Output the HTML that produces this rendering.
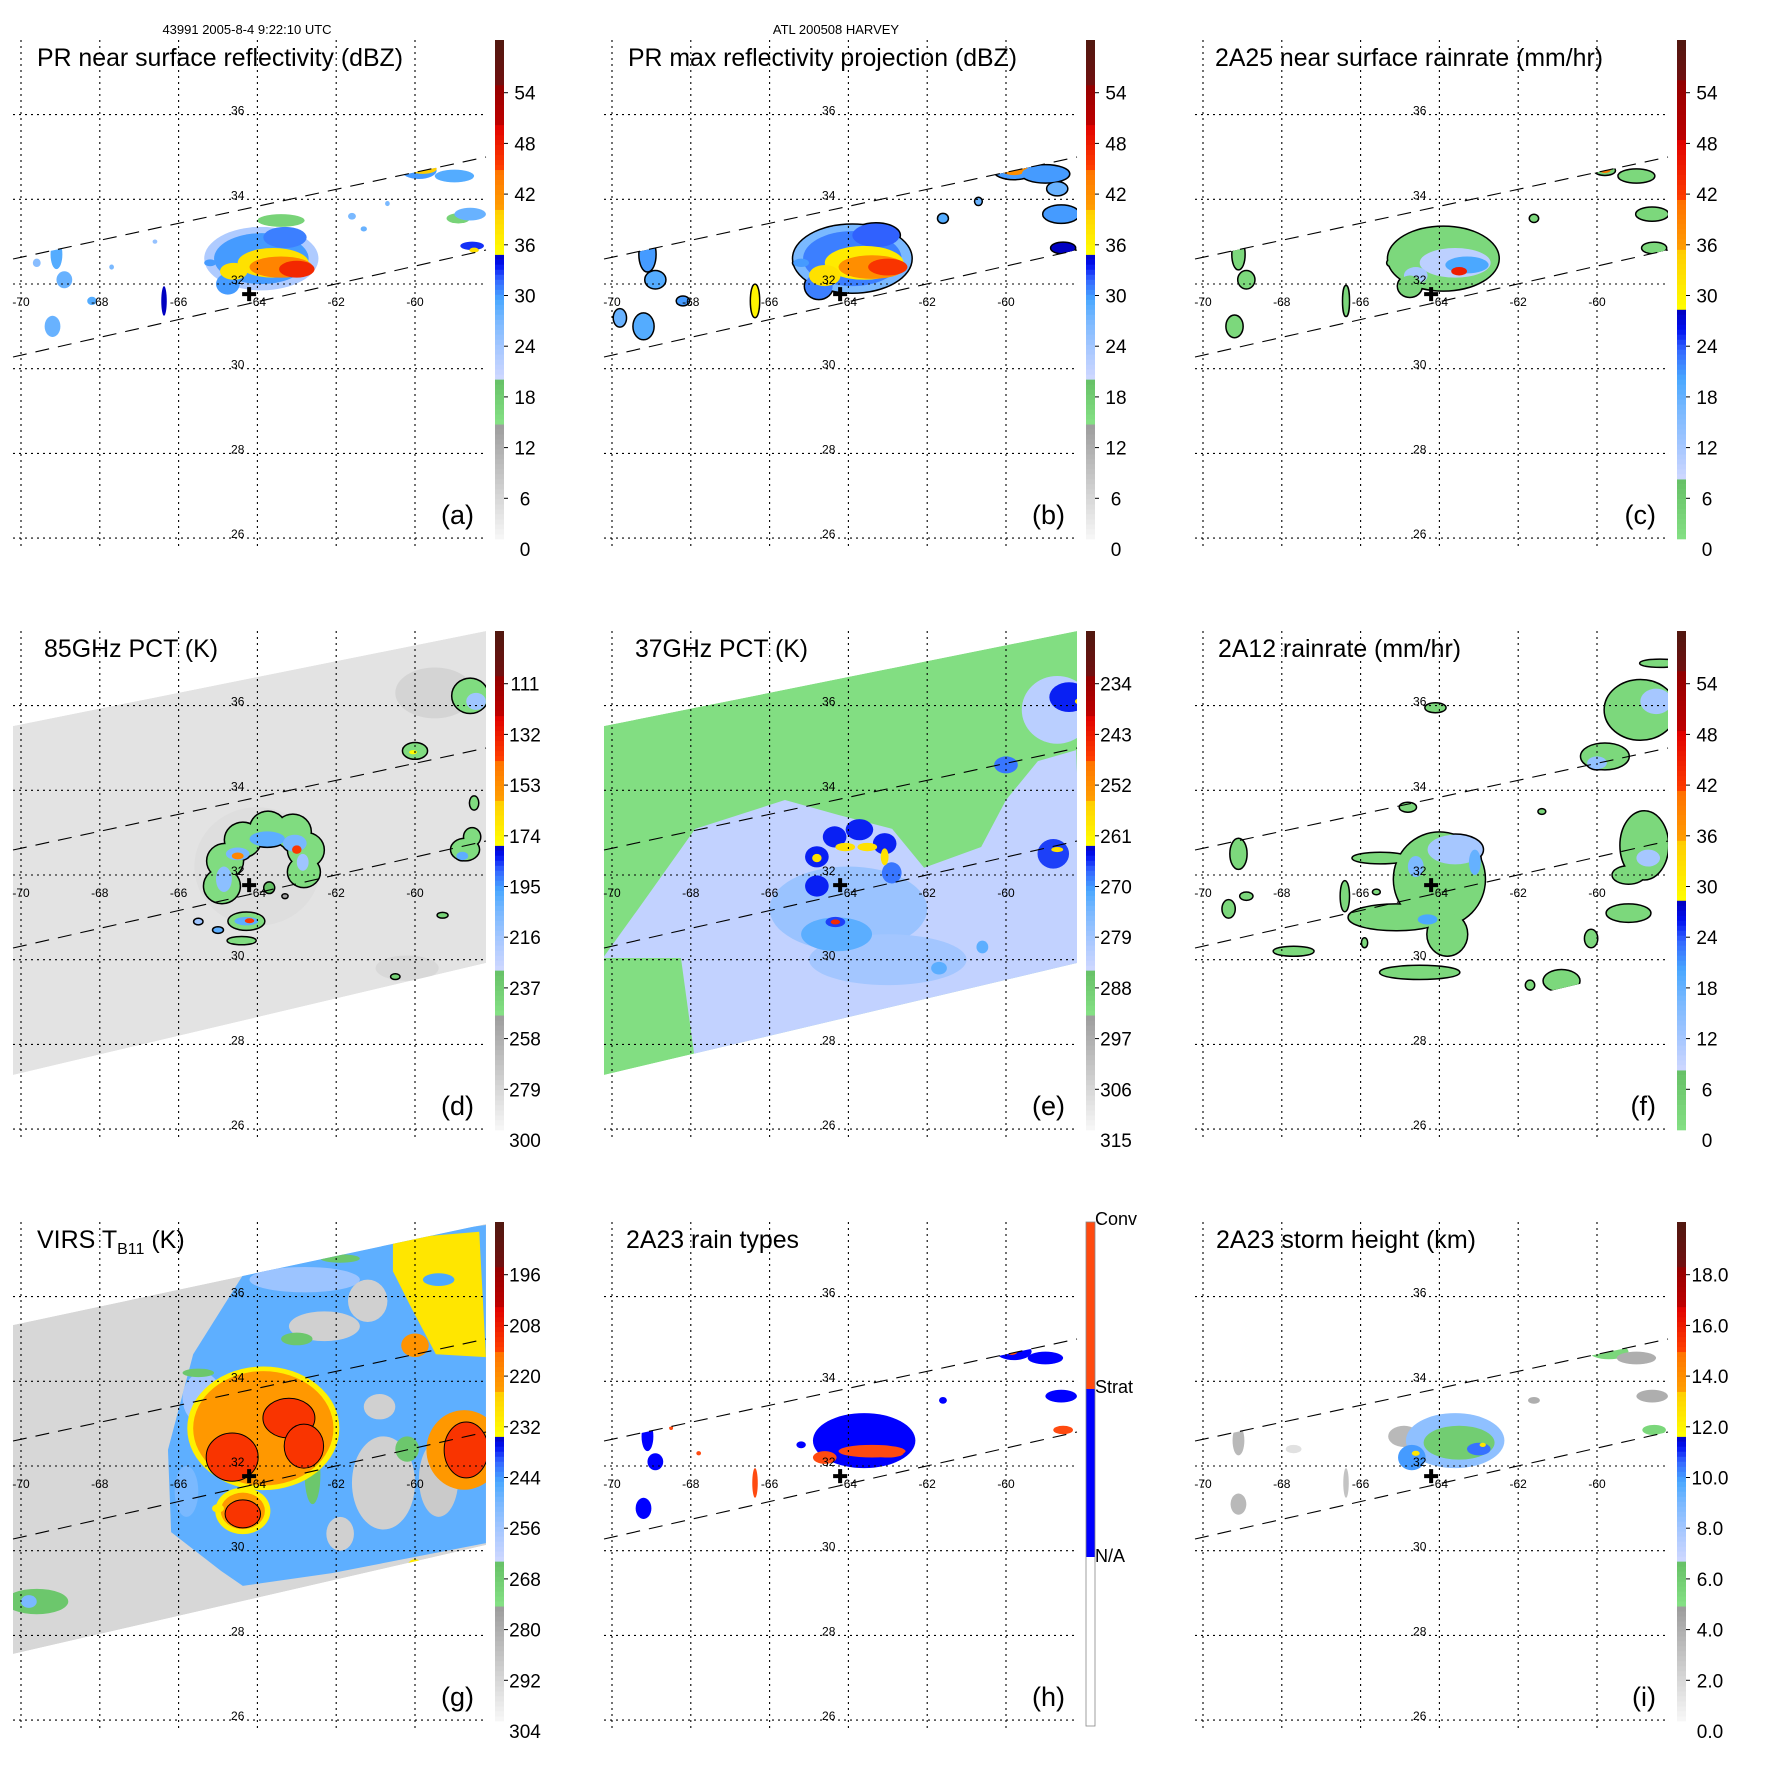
<!DOCTYPE html>
<html><head><meta charset="utf-8">
<style>
html,body{margin:0;padding:0;background:#fff;}
svg text{font-family:"Liberation Sans",Arial,sans-serif;fill:#000;}
</style></head>
<body>
<svg id="fig" xmlns="http://www.w3.org/2000/svg" width="1771" height="1771" viewBox="0 0 1771 1771">
<rect width="1771" height="1771" fill="#fff"/>
<defs id="defs"></defs>
<text x="247" y="34" font-size="13" text-anchor="middle">43991 2005-8-4 9:22:10 UTC</text>
<text x="836" y="34" font-size="13" text-anchor="middle">ATL 200508 HARVEY</text>
</svg>
<script>
// ---------- data ----------
const lonTicks = [-70,-68,-66,-64,-62,-60];
const latTicks = [26,28,30,32,34,36];
const stormCenter = [-64.21, 31.76];

const cbLabelsA = ['0','6','12','18','24','30','36','42','48','54'];
const cbLabelsC = ['0','6','12','18','24','30','36','42','48','54'];
const cbLabelsD = ['300','279','258','237','216','195','174','153','132','111'];
const cbLabelsE = ['315','306','297','288','279','270','261','252','243','234'];
const cbLabelsF = ['0','6','12','18','24','30','36','42','48','54'];
const cbLabelsG = ['304','292','280','268','256','244','232','220','208','196'];
const cbLabelsI = ['0.0','2.0','4.0','6.0','8.0','10.0','12.0','14.0','16.0','18.0'];
const cbLabelsH = ['Conv','Strat','N/A'];

// cells: [lon, lat, rxDeg, ryDeg, value]
const cellsA = [
 [-63.9,32.6,1.45,0.75,23],[-63.9,32.6,1.2,0.6,30],[-63.3,33.1,0.55,0.25,31],[-64.75,32.0,0.3,0.25,30],
 [-63.6,32.5,0.9,0.35,38],[-63.4,32.4,0.8,0.25,43],[-63.0,32.35,0.45,0.2,47],[-64.6,32.3,0.35,0.2,38],
 [-63.4,33.5,0.6,0.15,17],[-58.9,33.55,0.3,0.12,17],
 [-59.9,34.68,0.45,0.2,30],[-59.8,34.72,0.35,0.12,40],[-59.0,34.55,0.5,0.15,29],[-58.6,33.65,0.4,0.15,28],[-58.55,32.9,0.3,0.1,33],[-58.5,32.8,0.12,0.06,38],
 [-69.1,32.7,0.15,0.35,29],[-68.9,32.1,0.2,0.2,28],[-69.2,31.0,0.2,0.25,28],[-69.6,32.5,0.1,0.1,26],[-68.2,31.6,0.12,0.1,29],[-66.37,31.6,0.07,0.35,35],
 [-68.3,33.7,0.1,0.06,27],[-67.5,33.3,0.08,0.06,26],[-66.6,33.0,0.06,0.05,25],[-67.7,32.4,0.06,0.06,27],[-65.2,32.5,0.15,0.08,30],[-61.3,33.3,0.08,0.06,28],[-61.6,33.6,0.1,0.08,27],[-65.0,31.3,0.08,0.06,22],[-60.7,33.9,0.06,0.06,27]
];
const cellsB = [
 [-63.9,32.6,1.5,0.8,27],[-63.9,32.6,1.25,0.65,31],[-63.3,33.15,0.6,0.28,32],[-64.75,31.95,0.35,0.3,31],
 [-63.6,32.5,1.0,0.4,37],[-63.4,32.4,0.85,0.28,42],[-63.0,32.4,0.5,0.2,46],[-64.6,32.2,0.4,0.25,38],
 [-59.8,34.68,0.5,0.2,30],[-59.8,34.72,0.35,0.15,42],[-59.0,34.6,0.6,0.2,30],[-58.7,34.25,0.25,0.15,28],[-58.6,33.65,0.45,0.2,30],[-58.55,32.85,0.3,0.12,35],
 [-69.1,32.7,0.2,0.4,30],[-68.9,32.1,0.25,0.2,29],[-69.2,31.0,0.25,0.3,29],[-69.8,31.2,0.15,0.2,28],[-68.2,31.6,0.15,0.1,30],[-66.37,31.6,0.1,0.38,36],
 [-65.2,32.5,0.2,0.1,30],[-61.6,33.55,0.12,0.1,29],[-60.7,33.95,0.08,0.08,28],[-67.5,33.3,0.08,0.06,27],[-68.3,33.7,0.1,0.06,28]
];
const cellsC = [
 [-63.9,32.6,1.4,0.75,3],[-63.6,32.5,0.9,0.35,10],[-63.3,32.45,0.55,0.2,20],[-63.5,32.3,0.2,0.1,45],[-64.6,32.2,0.3,0.2,12],[-64.75,31.95,0.3,0.25,4],
 [-59.8,34.68,0.25,0.1,4],[-59.8,34.7,0.15,0.08,40],[-59.0,34.55,0.45,0.15,3],[-58.6,33.65,0.4,0.15,3],[-58.55,32.85,0.3,0.12,3],
 [-69.1,32.7,0.15,0.35,3],[-68.9,32.1,0.2,0.2,3],[-69.2,31.0,0.2,0.25,3],[-66.37,31.6,0.07,0.35,3],[-65.2,32.5,0.12,0.08,3],[-61.6,33.55,0.1,0.08,3]
];
const cellsD = [
 [-64.9,31.74,0.45,0.4,245],[-64.82,32.33,0.45,0.4,245],[-64.37,32.83,0.45,0.4,245],[-63.73,33.09,0.45,0.4,245],[-63.1,33.02,0.45,0.4,245],[-62.77,32.59,0.45,0.4,245],[-62.82,32.07,0.4,0.35,245],
 [-64.85,31.9,0.2,0.3,210],[-64.5,32.5,0.3,0.15,205],[-63.75,32.85,0.45,0.18,200],[-63.05,32.75,0.3,0.2,205],[-62.85,32.3,0.15,0.2,215],
 [-64.5,32.45,0.15,0.08,150],[-63.0,32.6,0.12,0.1,140],
 [-64.28,30.91,0.45,0.2,245],[-64.28,30.91,0.3,0.1,200],[-64.2,30.92,0.12,0.06,140],[-64.4,30.45,0.35,0.08,245],
 [-58.6,36.23,0.45,0.4,245],[-58.45,36.1,0.25,0.2,215],[-60.0,34.93,0.3,0.18,245],[-60.05,34.9,0.1,0.05,175],
 [-58.73,32.6,0.35,0.25,245],[-58.55,32.9,0.2,0.2,245],[-58.8,32.45,0.15,0.1,200],[-58.5,33.7,0.1,0.15,245],
 [-65.5,30.9,0.1,0.06,215],[-65.0,30.7,0.12,0.06,200],[-63.7,31.7,0.12,0.12,230],[-59.3,31.05,0.12,0.05,240],[-60.5,29.6,0.1,0.05,240],[-63.3,31.5,0.06,0.04,250]
];
const patchesD = [[-59.5,36.3,1.0,0.6,272],[-60.2,29.8,0.8,0.3,276],[-64.0,32.2,1.6,1.4,281]];
const cellsE = [
 [-64.0,31.2,2.0,1.0,278],[-63.0,30.0,2.0,0.6,279],[-64.3,30.6,0.9,0.4,272],
 [-64.8,31.74,0.3,0.25,265],[-64.8,32.43,0.3,0.25,265],[-64.35,32.9,0.3,0.25,265],[-63.72,33.07,0.35,0.25,265],[-63.08,32.74,0.3,0.25,265],[-62.9,32.05,0.25,0.25,268],
 [-64.08,32.66,0.25,0.1,258],[-63.52,32.66,0.25,0.1,258],[-63.08,32.43,0.1,0.2,258],[-64.8,32.4,0.12,0.1,258],
 [-64.33,30.89,0.25,0.12,266],[-64.33,30.89,0.12,0.06,245],
 [-58.8,32.5,0.4,0.35,266],[-58.7,32.6,0.15,0.06,258],
 [-58.7,35.9,0.9,0.8,282],[-58.4,36.2,0.5,0.35,265],[-58.1,36.1,0.15,0.08,258],[-60.0,34.6,0.3,0.2,268],
 [-60.6,30.3,0.15,0.15,272],[-61.7,29.8,0.2,0.15,272]
];
const polyELavender = [[-70.23,30.04],[-69.24,31.32],[-67.89,33.09],[-65.61,33.77],[-64.26,33.42],[-62.89,33.09],[-62.08,32.17],[-60.63,32.66],[-60.0,33.77],[-59.19,34.69],[-58.22,34.95],[-58.0,29.5],[-62.44,28.7],[-65.15,28.2],[-67.89,27.6],[-68.25,30.04],[-69.24,30.04]];
const valueELavender = 283;
const cellsF = [
 [-64.0,31.9,1.15,1.1,3],[-65.5,32.4,0.7,0.12,3],[-65.1,31.0,1.2,0.3,3],[-64.5,29.7,1.0,0.15,3],[-63.8,30.6,0.5,0.5,3],
 [-63.6,32.6,0.7,0.35,12],[-64.6,32.2,0.2,0.25,16],[-63.1,32.3,0.15,0.3,18],[-64.3,30.95,0.25,0.12,20],
 [-58.9,35.9,0.9,0.7,3],[-59.8,34.8,0.6,0.3,3],[-58.5,36.1,0.4,0.3,12],[-60.0,34.65,0.25,0.15,14],
 [-58.8,32.7,0.6,0.8,3],[-59.2,32.0,0.4,0.2,3],[-58.7,32.4,0.3,0.2,12],
 [-59.2,31.1,0.55,0.2,3],[-60.15,30.5,0.15,0.2,3],[-60.9,29.5,0.45,0.25,3],[-61.7,29.4,0.1,0.1,3],
 [-69.1,32.5,0.2,0.35,3],[-69.35,31.2,0.15,0.2,3],[-68.9,31.5,0.15,0.08,3],[-67.7,30.2,0.5,0.1,3],[-66.4,31.5,0.1,0.35,3],[-65.6,31.6,0.08,0.05,3],[-65.9,30.4,0.06,0.1,3],
 [-64.8,33.6,0.2,0.1,3],[-64.1,35.95,0.25,0.1,3],[-66.0,36.4,0.08,0.05,3],[-58.4,37.0,0.5,0.08,3],[-61.4,33.5,0.08,0.05,3]
];
const polyGBlue = [[-65.63,34.64],[-64.19,36.77],[-62.39,37.1],[-60.56,37.41],[-58.2,37.69],[-58.2,30.18],[-62.11,29.47],[-64.37,29.17],[-64.92,29.52],[-66.19,30.44],[-66.27,32.38]];
const valueGBlue = 247;
const polyGYellow = [[-60.56,37.36],[-58.37,37.53],[-58.2,34.57],[-59.47,34.64],[-60.1,35.75],[-60.56,36.6]];
const valueGYellow = 229;
const cellsG = [
 [-62.8,36.4,1.4,0.3,255],[-65.4,33.6,0.5,0.6,256],
 [-62.3,35.3,0.9,0.35,290],[-61.2,35.9,0.5,0.5,290],[-60.8,31.6,0.8,1.1,290],[-59.4,31.7,0.5,0.9,288],[-61.9,30.4,0.35,0.4,290],[-60.9,33.4,0.4,0.3,290],
 [-62.6,31.8,0.2,0.7,266],[-60.2,32.4,0.3,0.3,266],[-65.5,34.2,0.4,0.1,266],[-63.0,35.0,0.4,0.15,266],[-61.9,36.9,0.5,0.1,266],
 [-59.4,36.4,0.4,0.15,245],[-60.0,34.85,0.35,0.28,221],
 [-63.85,32.89,1.93,1.46,231],[-64.37,30.94,0.7,0.55,231],[-63.85,32.89,1.78,1.35,222],[-64.37,30.94,0.56,0.43,222],
 [-64.64,32.21,0.66,0.57,212],[-63.2,33.13,0.66,0.47,212],[-62.82,32.47,0.5,0.52,212],[-64.37,30.87,0.45,0.33,212],
 [-58.75,32.38,0.96,0.94,222],[-58.7,32.38,0.56,0.66,212],
 [-69.6,28.8,0.8,0.3,266],[-69.8,28.8,0.2,0.15,250],[-60.0,29.6,0.2,0.2,230],[-65.0,31.0,0.15,0.1,230],[-65.8,31.4,0.3,0.6,250]
];
const cellsH = [
 [-63.6,32.6,1.3,0.65,1],[-63.4,32.35,0.85,0.15,2],[-64.6,32.2,0.3,0.15,2],[-63.0,32.3,0.4,0.1,2],
 [-59.8,34.7,0.45,0.2,1],[-59.85,34.72,0.15,0.1,2],[-59.0,34.55,0.45,0.15,1],[-58.6,33.65,0.4,0.15,1],[-58.55,32.85,0.25,0.1,2],
 [-69.1,32.7,0.15,0.35,1],[-68.9,32.1,0.2,0.2,1],[-69.2,31.0,0.2,0.25,1],[-66.37,31.6,0.07,0.35,2],[-65.2,32.5,0.12,0.08,1],[-68.5,32.9,0.05,0.05,2],[-67.8,32.3,0.06,0.05,2],[-61.6,33.55,0.1,0.08,1]
];
const cellsI = [
 [-64.9,32.7,0.4,0.25,3.5],[-63.6,32.6,1.25,0.65,8.5],[-63.5,32.55,0.9,0.4,6],[-64.7,32.2,0.35,0.3,10],[-63.0,32.4,0.3,0.15,10.5],[-64.6,32.3,0.1,0.06,12.5],[-62.9,32.5,0.08,0.05,12.5],
 [-59.7,34.7,0.5,0.18,5.5],[-59.85,34.75,0.1,0.05,10],[-59.0,34.55,0.5,0.15,4],[-58.6,33.65,0.4,0.15,4],[-58.55,32.85,0.3,0.12,5.5],
 [-69.1,32.6,0.15,0.35,3.5],[-69.1,31.1,0.2,0.25,3.5],[-66.37,31.6,0.07,0.35,3],[-61.6,33.55,0.15,0.08,4],[-67.7,32.4,0.2,0.1,1.5]
];

// ---------- helpers ----------
const NS='http://www.w3.org/2000/svg';
const RX=39.4, RY=42.35;
function X(lon){return 257.4+(lon+64)*RX;}
function Y(lat){return 284-(lat-32)*RY;}
function mk(tag,attrs,parent){const e=document.createElementNS(NS,tag);for(const k in attrs)e.setAttribute(k,attrs[k]);parent.appendChild(e);return e;}
const stopsA=[[0,'#f8f8f8'],[0.234,'#9a9a9a'],[0.2341,'#84e084'],[0.32,'#66c066'],[0.3201,'#d0d8ff'],[0.38,'#a8c8ff'],[0.44,'#78b8ff'],[0.48,'#4aa8ff'],[0.52,'#3366ff'],[0.55,'#0010f0'],[0.573,'#0000c0'],[0.5731,'#ffff00'],[0.66,'#ffcc00'],[0.6601,'#ffa000'],[0.743,'#ff7000'],[0.7431,'#ff4000'],[0.83,'#e00000'],[0.8301,'#c00000'],[0.914,'#900000'],[0.9141,'#701010'],[1,'#501810']];
const stopsC=[[0,'#84e084'],[0.118,'#66c066'],[0.1181,'#d0d8ff'],[0.18,'#a8c8ff'],[0.26,'#78b8ff'],[0.32,'#4aa8ff'],[0.38,'#3366ff'],[0.42,'#0010f0'],[0.458,'#0000c0'],[0.4581,'#ffff00'],[0.576,'#ffcc00'],[0.5761,'#ffa000'],[0.676,'#ff7000'],[0.6761,'#ff4000'],[0.798,'#e00000'],[0.7981,'#c00000'],[0.92,'#900000'],[0.9201,'#701010'],[1,'#501810']];
function hx(c){return [parseInt(c.substr(1,2),16),parseInt(c.substr(3,2),16),parseInt(c.substr(5,2),16)];}
function interp(stops,f){f=Math.max(0,Math.min(1,f));for(let i=1;i<stops.length;i++){if(f<=stops[i][0]){const a=stops[i-1],b=stops[i];const t=(f-a[0])/((b[0]-a[0])||1);const ca=hx(a[1]),cb=hx(b[1]);return 'rgb('+ca.map((v,k)=>Math.round(v+(cb[k]-v)*t)).join(',')+')';}}return stops[stops.length-1][1];}

const SW_PR=[[13,259],[486,157],[486,250],[13,357]];
const SW_TMI=[[13,135],[486,40],[486,372],[13,484]];
const SW_VIRS=[[13,143],[486,42],[486,363],[13,472]];

const panels=[
 {id:'a',col:0,row:0,title:'PR near surface reflectivity (dBZ)',tw:366,tx:37,cb:'A',vb:0,step:6,labels:cbLabelsA,cells:cellsA,sw:SW_PR,outline:false},
 {id:'b',col:1,row:0,title:'PR max reflectivity projection (dBZ)',tw:389,tx:37,cb:'A',vb:0,step:6,labels:cbLabelsA,cells:cellsB,sw:SW_PR,outline:true},
 {id:'c',col:2,row:0,title:'2A25 near surface rainrate (mm/hr)',tw:388,tx:33,cb:'C',vb:0,step:6,labels:cbLabelsC,cells:cellsC,sw:SW_PR,outline:true},
 {id:'d',col:0,row:1,title:'85GHz PCT (K)',tw:174,tx:44,cb:'A',vb:300,step:-21,labels:cbLabelsD,cells:cellsD,sw:SW_TMI,outline:true,bg:285,patches:patchesD},
 {id:'e',col:1,row:1,title:'37GHz PCT (K)',tw:173,tx:44,cb:'A',vb:315,step:-9,labels:cbLabelsE,cells:cellsE,sw:SW_TMI,outline:false,bg:292,polys:[[polyELavender,valueELavender]]},
 {id:'f',col:2,row:1,title:'2A12 rainrate (mm/hr)',tw:243,tx:36,cb:'C',vb:0,step:6,labels:cbLabelsF,cells:cellsF,sw:SW_TMI,outline:true},
 {id:'g',col:0,row:2,title:null,tx:37,cb:'A',vb:304,step:-12,labels:cbLabelsG,cells:cellsG,sw:SW_VIRS,outline:false,bg:292,polys:[[polyGBlue,valueGBlue],[polyGYellow,valueGYellow]]},
 {id:'h',col:1,row:2,title:'2A23 rain types',tw:173,tx:35,cb:'H',labels:cbLabelsH,cells:cellsH,sw:SW_PR,outline:false},
 {id:'i',col:2,row:2,title:'2A23 storm height (km)',tw:260,tx:34,cb:'A',vb:0,step:2,labels:cbLabelsI,cells:cellsI,sw:SW_PR,outline:false}
];
function colorFor(p,v){
 if(p.cb==='H') return v>=2?'#ff4a10':'#0000ff';
 const y=549-(v-p.vb)/p.step*50.7;
 return interp(p.cb==='C'?stopsC:stopsA,(539-y)/499);
}

const svg=document.getElementById('fig');
const defs=document.getElementById('defs');
panels.forEach(p=>{
 const g=mk('g',{transform:'translate('+(p.col*591)+','+(p.row*591)+')'},svg);
 
 
 const cp=mk('clipPath',{id:'clip-'+p.id},defs);
 mk('polygon',{points:p.sw.map(q=>q.join(',')).join(' ')},cp);
 const dg=mk('g',{'clip-path':'url(#clip-'+p.id+')'},g);
 
 
 if(p.bg!==undefined){
  const bg=mk('polygon',{points:p.sw.map(q=>q.join(',')).join(' '),fill:colorFor(p,p.bg)},dg);
  
  
 }
 (p.patches||[]).forEach(c=>{
  const e=mk('ellipse',{cx:X(c[0]),cy:Y(c[1]),rx:c[2]*RX,ry:c[3]*RY,fill:colorFor(p,c[4]),opacity:0.6},dg);
  
  
 });
 (p.polys||[]).forEach(pp=>{
  const e=mk('polygon',{points:pp[0].map(q=>X(q[0])+','+Y(q[1])).join(' '),fill:colorFor(p,pp[1])},dg);
  
  
 });
 if(p.outline){
  p.cells.forEach(c=>{
   const e=mk('ellipse',{cx:X(c[0]),cy:Y(c[1]),rx:c[2]*RX,ry:c[3]*RY,fill:'#000',stroke:'#000','stroke-width':3},dg);
   
   
  });
 }
 p.cells.forEach(c=>{
  const e=mk('ellipse',{cx:X(c[0]),cy:Y(c[1]),rx:c[2]*RX,ry:c[3]*RY,fill:colorFor(p,c[4])},dg);
  if(p.id==='g'&&c[4]<=214){e.setAttribute('stroke','#000');e.setAttribute('stroke-width','1');}
  
  
 });
 // grid
 lonTicks.forEach(lon=>{
  const l=mk('line',{x1:X(lon),x2:X(lon),y1:40,y2:549,stroke:'#000','stroke-width':1.1,'stroke-dasharray':'2,4'},g);
  
  
  const t=mk('text',{x:X(lon),y:306,'font-size':12,'text-anchor':'middle'},g);
  t.textContent=String(lon);
  
  
 });
 latTicks.forEach(lat=>{
  const l=mk('line',{x1:13,x2:486,y1:Y(lat),y2:Y(lat),stroke:'#000','stroke-width':1.1,'stroke-dasharray':'2,4'},g);
  
  
  const t=mk('text',{x:237.7,y:Y(lat),'font-size':12,'text-anchor':'middle'},g);
  t.textContent=String(lat);
  
  
 });
 // PR swath edges
 [[13,259,486,157],[13,357,486,250]].forEach(s=>{
  const l=mk('line',{x1:s[0],y1:s[1],x2:s[2],y2:s[3],stroke:'#000','stroke-width':1.1,'stroke-dasharray':'14,9'},g);
  
  
 });
 // storm marker
 const m=mk('path',{d:'M'+(X(stormCenter[0])-7)+','+(Y(stormCenter[1])-2)+'h14v4h-14zM'+(X(stormCenter[0])-2)+','+(Y(stormCenter[1])-7)+'h4v14h-4z',fill:'#000'},g);
 
 
 // title
 const tt=mk('text',{x:p.tx,y:66,'font-size':25},g);
 if(p.title){tt.textContent=p.title;tt.setAttribute('textLength',p.tw);tt.setAttribute('lengthAdjust','spacingAndGlyphs');}
 else{
  const s1=mk('tspan',{},tt);s1.textContent='VIRS T';
  const s2=mk('tspan',{'font-size':16,dy:6},tt);s2.textContent='B11';
  const s3=mk('tspan',{dy:-6},tt);s3.textContent=' (K)';
 }
 
 
 const pl=mk('text',{x:474,y:524,'font-size':27,'text-anchor':'end'},g);
 pl.textContent='('+p.id+')';
 
 
 // colorbar
 const cbg=mk('g',{},g);
 
 
 if(p.cb==='H'){
  [[40,167,'#ff4a10'],[207,168,'#0000ff'],[375,169,'#ffffff']].forEach(b=>{
   const r=mk('rect',{x:495,y:b[0],width:9,height:b[1],fill:b[2]},cbg);
   
   
  });
  mk('rect',{x:495,y:40,width:9,height:504,fill:'none',stroke:'#888','stroke-width':0.8},cbg);
  [43,211,380].forEach((yy,k)=>{
   const t=mk('text',{x:504,y:yy,'font-size':18},cbg);
   t.textContent=p.labels[k];
   
   
  });
 } else {
  for(let i=0;i<100;i++){
   const f=(i+0.5)/100;
   const r=mk('rect',{x:495,y:539-(i+1)*4.99,width:9,height:5.3,fill:interp(p.cb==='C'?stopsC:stopsA,f)},cbg);
   
   
  }
  p.labels.forEach((lab,k)=>{
   const yy=549-k*50.7;
   if(yy<=539) mk('line',{x1:504,x2:508,y1:yy,y2:yy,stroke:'#000','stroke-width':1},cbg);
   const t=mk('text',{x:(p.id==='i'?528:525),y:yy+7,'font-size':19,'text-anchor':'middle'},cbg);
   t.textContent=lab;
   
   
  });
 }
});
</script>
</body></html>
